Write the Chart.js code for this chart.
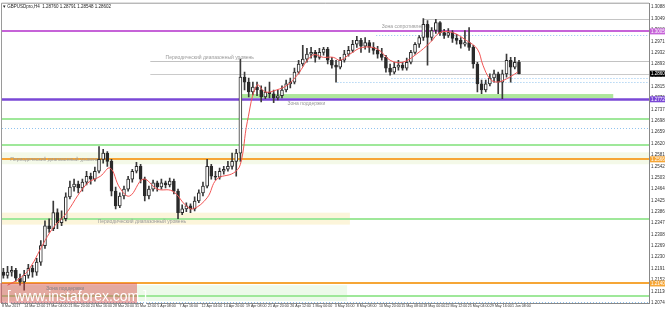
<!DOCTYPE html>
<html>
<head>
<meta charset="utf-8">
<script src="https://cdn.jsdelivr.net/npm/chart.js@4.4.1/dist/chart.umd.min.js"></script>
<style>
html, body { margin: 0; padding: 0; background: #fff; overflow: hidden; }
canvas { display: block; }
</style>
</head>
<body>
<canvas id="chart" width="665" height="309"></canvas>
<script>
// GBPUSD H4 candles, grouped by 3 bars (12h each)
const candleOpen = [
    1.2179, 1.2168, 1.2179, 1.2185, 1.2158, 1.2145, 1.2168, 1.2192, 1.2179, 1.2213,
    1.2270, 1.2338, 1.2328, 1.2383, 1.2349, 1.2362, 1.2437, 1.2471, 1.2481, 1.2468,
    1.2488, 1.2508, 1.2498, 1.2525, 1.2566, 1.2587, 1.2559, 1.2457, 1.2406, 1.2440,
    1.2464, 1.2498, 1.2525, 1.2542, 1.2498, 1.2440, 1.2464, 1.2485, 1.2471, 1.2485,
    1.2478, 1.2491, 1.2457, 1.2383, 1.2396, 1.2406, 1.2396, 1.2423, 1.2451, 1.2474,
    1.2542, 1.2508, 1.2505, 1.2525, 1.2532, 1.2542, 1.2559, 1.2587, 1.2848, 1.2831,
    1.2797, 1.2814, 1.2804, 1.2780, 1.2797, 1.2791, 1.2777, 1.2784, 1.2804, 1.2825,
    1.2831, 1.2865, 1.2893, 1.2910, 1.2927, 1.2933, 1.2916, 1.2933, 1.2944, 1.2906,
    1.2889, 1.2882, 1.2906, 1.2927, 1.2940, 1.2961, 1.2974, 1.2954, 1.2967, 1.2950,
    1.2940, 1.2927, 1.2916, 1.2879, 1.2865, 1.2882, 1.2889, 1.2879, 1.2899, 1.2933,
    1.2961, 1.2984, 1.3029, 1.2984, 1.3008, 1.3035, 1.3001, 1.2991, 1.3001, 1.2981,
    1.2974, 1.2961, 1.2967, 1.2950, 1.2893, 1.2825, 1.2804, 1.2825, 1.2845, 1.2859,
    1.2831, 1.2859, 1.2906, 1.2882, 1.2899
];
const candleHigh = [
    1.2192, 1.2199, 1.2199, 1.2192, 1.2172, 1.2185, 1.2206, 1.2202, 1.2226, 1.2287,
    1.2355, 1.2362, 1.2423, 1.2396, 1.2389, 1.2451, 1.2491, 1.2498, 1.2491, 1.2498,
    1.2525, 1.2519, 1.2539, 1.2610, 1.2600, 1.2593, 1.2566, 1.2471, 1.2451, 1.2474,
    1.2508, 1.2532, 1.2556, 1.2549, 1.2505, 1.2474, 1.2495, 1.2491, 1.2498, 1.2491,
    1.2502, 1.2498, 1.2464, 1.2410, 1.2417, 1.2413, 1.2437, 1.2461, 1.2488, 1.2566,
    1.2549, 1.2525, 1.2536, 1.2542, 1.2559, 1.2587, 1.2600, 1.2910, 1.2865, 1.2845,
    1.2831, 1.2831, 1.2818, 1.2814, 1.2831, 1.2804, 1.2804, 1.2818, 1.2838, 1.2845,
    1.2879, 1.2906, 1.2957, 1.2947, 1.2950, 1.2940, 1.2947, 1.2950, 1.2950, 1.2916,
    1.2906, 1.2916, 1.2940, 1.2954, 1.2974, 1.2988, 1.2981, 1.2984, 1.2974, 1.2967,
    1.2954, 1.2947, 1.2923, 1.2893, 1.2899, 1.2906, 1.2899, 1.2913, 1.2940, 1.2967,
    1.2991, 1.3049, 1.3042, 1.3018, 1.3046, 1.3039, 1.3012, 1.3015, 1.3008, 1.2995,
    1.2984, 1.3008, 1.3018, 1.2957, 1.2899, 1.2838, 1.2838, 1.2859, 1.2872, 1.2865,
    1.2872, 1.2927, 1.2916, 1.2916, 1.2906
];
const candleLow = [
    1.2158, 1.2158, 1.2165, 1.2148, 1.2134, 1.2117, 1.2158, 1.2162, 1.2168, 1.2202,
    1.2260, 1.2315, 1.2321, 1.2328, 1.2338, 1.2355, 1.2430, 1.2457, 1.2451, 1.2457,
    1.2478, 1.2481, 1.2491, 1.2519, 1.2553, 1.2542, 1.2440, 1.2396, 1.2400, 1.2430,
    1.2457, 1.2488, 1.2519, 1.2485, 1.2423, 1.2430, 1.2457, 1.2457, 1.2464, 1.2468,
    1.2471, 1.2447, 1.2362, 1.2376, 1.2386, 1.2383, 1.2389, 1.2417, 1.2440, 1.2468,
    1.2498, 1.2495, 1.2498, 1.2515, 1.2525, 1.2532, 1.2508, 1.2559, 1.2804, 1.2780,
    1.2787, 1.2784, 1.2763, 1.2774, 1.2777, 1.2760, 1.2770, 1.2777, 1.2797, 1.2811,
    1.2825, 1.2859, 1.2886, 1.2899, 1.2913, 1.2899, 1.2910, 1.2923, 1.2893, 1.2879,
    1.2831, 1.2876, 1.2899, 1.2920, 1.2933, 1.2950, 1.2933, 1.2944, 1.2933, 1.2927,
    1.2913, 1.2906, 1.2865, 1.2855, 1.2859, 1.2872, 1.2872, 1.2872, 1.2893, 1.2927,
    1.2950, 1.2974, 1.2889, 1.2974, 1.2998, 1.2991, 1.2981, 1.2984, 1.2967, 1.2961,
    1.2947, 1.2954, 1.2940, 1.2879, 1.2797, 1.2791, 1.2797, 1.2818, 1.2831, 1.2791,
    1.2774, 1.2848, 1.2831, 1.2876, 1.2859
];
const candleClose = [
    1.2168, 1.2179, 1.2185, 1.2158, 1.2145, 1.2168, 1.2192, 1.2179, 1.2213, 1.2270,
    1.2338, 1.2328, 1.2383, 1.2349, 1.2362, 1.2437, 1.2471, 1.2481, 1.2468, 1.2488,
    1.2508, 1.2498, 1.2525, 1.2566, 1.2587, 1.2559, 1.2457, 1.2406, 1.2440, 1.2464,
    1.2498, 1.2525, 1.2542, 1.2498, 1.2440, 1.2464, 1.2485, 1.2471, 1.2485, 1.2478,
    1.2491, 1.2457, 1.2383, 1.2396, 1.2406, 1.2396, 1.2423, 1.2451, 1.2474, 1.2542,
    1.2508, 1.2505, 1.2525, 1.2532, 1.2542, 1.2559, 1.2587, 1.2848, 1.2831, 1.2797,
    1.2814, 1.2804, 1.2780, 1.2797, 1.2791, 1.2777, 1.2784, 1.2804, 1.2825, 1.2831,
    1.2865, 1.2893, 1.2910, 1.2927, 1.2933, 1.2916, 1.2933, 1.2944, 1.2906, 1.2889,
    1.2882, 1.2906, 1.2927, 1.2940, 1.2961, 1.2974, 1.2954, 1.2967, 1.2950, 1.2940,
    1.2927, 1.2916, 1.2879, 1.2865, 1.2882, 1.2889, 1.2879, 1.2899, 1.2933, 1.2961,
    1.2984, 1.3029, 1.2984, 1.3008, 1.3035, 1.3001, 1.2991, 1.3001, 1.2981, 1.2974,
    1.2961, 1.2967, 1.2950, 1.2893, 1.2825, 1.2804, 1.2825, 1.2845, 1.2859, 1.2831,
    1.2859, 1.2906, 1.2882, 1.2899, 1.2860
];

// red moving average, sampled along the line (H4 bar index -> price)
const maBars = [4, 13, 20, 31, 38, 45, 61, 71, 78, 85, 92, 102, 112, 123, 133, 138, 148, 155,
    167, 172, 177, 184, 190, 198, 206, 213, 224, 232, 239, 244, 251, 260, 271, 280, 289, 299,
    309, 316, 325, 335, 343, 347, 352, 357, 364, 372];
const maValues = [1.2134, 1.2158, 1.2192, 1.2287, 1.2338, 1.2372, 1.2481, 1.2508, 1.2536, 1.2468,
    1.2440, 1.2498, 1.2464, 1.2457, 1.2406, 1.2396, 1.2434, 1.2498, 1.2519, 1.2549, 1.2695,
    1.2821, 1.2797, 1.2804, 1.2821, 1.2855, 1.2923, 1.2916, 1.2916, 1.2906, 1.2927, 1.2950,
    1.2944, 1.2906, 1.2899, 1.2927, 1.2967, 1.3001, 1.3001, 1.2974, 1.2944, 1.2889, 1.2842,
    1.2831, 1.2842, 1.2865];

// axis ticks
const timeTickBars = [0, 16, 32, 48, 64, 80, 96, 112, 128, 144, 160, 176, 192, 208, 224, 240,
    256, 272, 288, 304, 320, 336, 352, 368];
const timeLabels = ['8 Mar 2017', '14 Mar 12:00', '17 Mar 04:00', '21 Mar 20:00', '24 Mar 16:00',
    '28 Mar 20:00', '31 Mar 12:00', '5 Apr 08:00', '7 Apr 16:00', '12 Apr 04:00', '14 Apr 20:00',
    '19 Apr 08:00', '21 Apr 20:00', '26 Apr 12:00', '1 May 00:00', '3 May 16:00', '8 May 08:00',
    '10 May 20:00', '15 May 08:00', '18 May 00:00', '22 May 12:00', '25 May 04:00',
    '29 May 16:00', '1 Jun 08:00'];
const priceTicks = [1.20740, 1.21130, 1.21520, 1.21910, 1.22300, 1.22690, 1.23080, 1.23470,
    1.23860, 1.24250, 1.24640, 1.25030, 1.25420, 1.25810, 1.26200, 1.26590, 1.26980, 1.27370,
    1.27760, 1.28150, 1.28540, 1.28930, 1.29320, 1.29710, 1.30100, 1.30490, 1.30880];

// drawn objects: zones, levels and their captions
const zones = [
    { from: 0, to: null, top: 1.2590, bottom: 1.2549, color: '#f4f9e8' },
    { from: 0, to: 251, top: 1.2383, bottom: 1.2342, color: '#fcf5da' },
    { from: 0, to: 249, top: 1.2134, bottom: 1.2080, color: '#edfaea' },
    { from: 172, to: 441, top: 1.2790, bottom: 1.2776, color: '#ade79b' }
];
const green = '#9fe89a', orange = '#f6a636', dotted = '#8fc3ef';
const levels = [
    { price: 1.3049, from: 304, color: '#c4c4c4', width: 1 },
    { price: 1.3005, from: 0, color: '#c663d8', width: 2, tag: '#c663d8' },
    { price: 1.2991, from: 270, color: dotted, width: 1, dash: [1, 2] },
    { price: 1.2903, from: 107, color: '#c2c2c2', width: 1 },
    { price: 1.2860, from: 107, color: '#cacaca', width: 1, tag: '#000000' },
    { price: 1.2845, from: 281, color: dotted, width: 1, dash: [1, 2] },
    { price: 1.2831, from: 242, color: dotted, width: 1, dash: [1, 2] },
    { price: 1.2772, from: 0, color: '#7a48d6', width: 2.5, tag: '#7a48d6' },
    { price: 1.2706, from: 0, color: green, width: 2 },
    { price: 1.2672, from: 0, color: dotted, width: 1, dash: [1, 2] },
    { price: 1.2614, from: 0, color: green, width: 2 },
    { price: 1.2566, from: 0, color: orange, width: 2, tag: orange },
    { price: 1.2362, from: 0, color: green, width: 2 },
    { price: 1.2140, from: 0, color: orange, width: 2, tag: orange },
    { price: 1.2097, from: 0, color: green, width: 2 },
    { price: 1.2077, from: 0, color: dotted, width: 1, dash: [1, 2] }
];
const captions = [
    { text: 'Зона сопротивления', bar: 274, price: 1.3022 },
    { text: 'Периодический диапазонный уровень', bar: 118, price: 1.2916 },
    { text: 'Зона поддержки', bar: 206, price: 1.2757 },
    { text: 'Периодический диапазонный уровень', bar: 6, price: 1.2566 },
    { text: 'Периодический диапазонный уровень', bar: 69, price: 1.2352 },
    { text: 'Зона поддержки', bar: 32, price: 1.2121 }
];
const chartTitle = 'GBPUSDpro,H4  1.28760 1.28791 1.28548 1.28602';

const candleX = candleOpen.map((_, i) => i * 3 + 1);
const yFont = { size: 4.5, family: 'Liberation Sans Narrow, Liberation Sans, sans-serif' };
const xFont = { size: 3.6, family: 'Liberation Sans Narrow, Liberation Sans, sans-serif' };

const objectsPlugin = {
    id: 'objects',
    beforeDatasetsDraw(chart) {
        const { ctx, chartArea: a, scales: { x, y } } = chart;
        ctx.save();
        ctx.beginPath();
        ctx.rect(a.left, a.top, a.right - a.left, a.bottom - a.top);
        ctx.clip();
        zones.forEach(z => {
            const x0 = x.getPixelForValue(z.from);
            const x1 = z.to === null ? a.right : x.getPixelForValue(z.to);
            const y0 = y.getPixelForValue(z.top);
            const y1 = y.getPixelForValue(z.bottom);
            ctx.fillStyle = z.color;
            ctx.fillRect(x0, y0, x1 - x0, y1 - y0);
        });
        levels.forEach(l => {
            const py = Math.round(y.getPixelForValue(l.price)) + (l.width % 2 ? 0.5 : 0);
            ctx.strokeStyle = l.color;
            ctx.lineWidth = l.width;
            ctx.setLineDash(l.dash || []);
            ctx.beginPath();
            ctx.moveTo(Math.max(a.left, x.getPixelForValue(l.from)), py);
            ctx.lineTo(a.right, py);
            ctx.stroke();
        });
        ctx.setLineDash([]);
        ctx.fillStyle = '#9a9a9a';
        ctx.font = '5px "Liberation Sans", sans-serif';
        ctx.textBaseline = 'middle';
        captions.forEach(c => {
            ctx.fillText(c.text, x.getPixelForValue(c.bar), y.getPixelForValue(c.price));
        });
        ctx.restore();
    },
    afterDraw(chart) {
        const { ctx, chartArea: a, scales: { y } } = chart;
        ctx.save();
        // frame
        ctx.strokeStyle = '#9a9a9a';
        ctx.lineWidth = 1;
        ctx.beginPath();
        ctx.moveTo(a.left + 0.5, a.bottom);
        ctx.lineTo(a.left + 0.5, a.top - 0.5);
        ctx.lineTo(a.right, a.top - 0.5);
        ctx.stroke();
        // price tags on the axis
        ctx.font = '4.5px "Liberation Sans Narrow", "Liberation Sans", sans-serif';
        ctx.textBaseline = 'middle';
        levels.filter(l => l.tag).forEach(l => {
            const py = y.getPixelForValue(l.price);
            ctx.fillStyle = l.tag;
            ctx.fillRect(a.right + 1, py - 3, 15, 6);
            ctx.fillStyle = '#ffffff';
            ctx.fillText(l.price.toFixed(5), a.right + 2, py);
        });
        // title
        ctx.fillStyle = '#222';
        ctx.font = '4.5px "Liberation Sans", sans-serif';
        ctx.fillText('\u25BE ' + chartTitle, a.left + 2, a.top + 3);
        // watermark
        ctx.fillStyle = 'rgba(214, 70, 70, 0.45)';
        ctx.fillRect(a.left - 1, a.bottom - 20, 137, 20);
        ctx.fillStyle = '#ffffff';
        ctx.font = '14px "Liberation Sans", sans-serif';
        ctx.textBaseline = 'alphabetic';
        ctx.fillText('[ www.instaforex.com ]', a.left + 6, a.bottom - 2);
        ctx.fillStyle = '#9a9a9a';
        ctx.font = '5px "Liberation Sans", sans-serif';
        ctx.textBaseline = 'middle';
        const z = captions[captions.length - 1];
        ctx.fillText(z.text, chart.scales.x.getPixelForValue(z.bar), y.getPixelForValue(z.price));
        ctx.restore();
    }
};

const chartCanvas = document.getElementById('chart').getContext('2d');

new Chart(chartCanvas, {
    type: 'bar',
    data: {
        datasets: [
            {
                type: 'line',
                label: 'MA',
                data: maBars.map((b, i) => ({ x: b, y: maValues[i] })),
                borderColor: '#f25555',
                borderWidth: 1,
                pointRadius: 0,
                tension: 0.4,
                order: 0
            },
            {
                label: 'bodies',
                data: candleX.map((x, i) => ({ x: x, y: [candleOpen[i], candleClose[i]] })),
                backgroundColor: candleClose.map((c, i) => c >= candleOpen[i] ? '#ffffff' : '#2a2a2a'),
                borderColor: '#2a2a2a',
                borderWidth: 1,
                borderSkipped: false,
                barThickness: 3,
                grouped: false,
                order: 1
            },
            {
                label: 'wicks',
                data: candleX.map((x, i) => ({ x: x, y: [candleLow[i], candleHigh[i]] })),
                backgroundColor: '#3a3a3a',
                barThickness: 1,
                grouped: false,
                order: 2
            }
        ]
    },
    options: {
        responsive: false,
        animation: false,
        layout: { padding: { left: 1, top: 1, right: 0, bottom: 0 } },
        plugins: { legend: { display: false }, tooltip: { enabled: false } },
        scales: {
            x: {
                type: 'linear',
                min: -0.72,
                max: 466.8,
                offset: false,
                afterBuildTicks: s => { s.ticks = timeTickBars.map(v => ({ value: v })); },
                afterFit: s => { s.height = 6; },
                ticks: {
                    autoSkip: false,
                    maxRotation: 0,
                    align: 'start',
                    padding: 0,
                    font: xFont,
                    color: '#333',
                    callback: (v, i) => timeLabels[i]
                },
                grid: { drawOnChartArea: false, tickLength: 1, color: '#888', offset: false },
                border: { color: '#888' }
            },
            y: {
                position: 'right',
                min: 1.2073,
                max: 1.3100,
                afterBuildTicks: s => { s.ticks = priceTicks.map(v => ({ value: v })); },
                afterFit: s => { s.width = 16; },
                ticks: {
                    padding: 1,
                    font: yFont,
                    color: '#333',
                    callback: v => v.toFixed(5)
                },
                grid: { drawOnChartArea: false, tickLength: 1, color: '#888' },
                border: { color: '#888' }
            }
        }
    },
    plugins: [objectsPlugin]
});
</script>
</body>
</html>
